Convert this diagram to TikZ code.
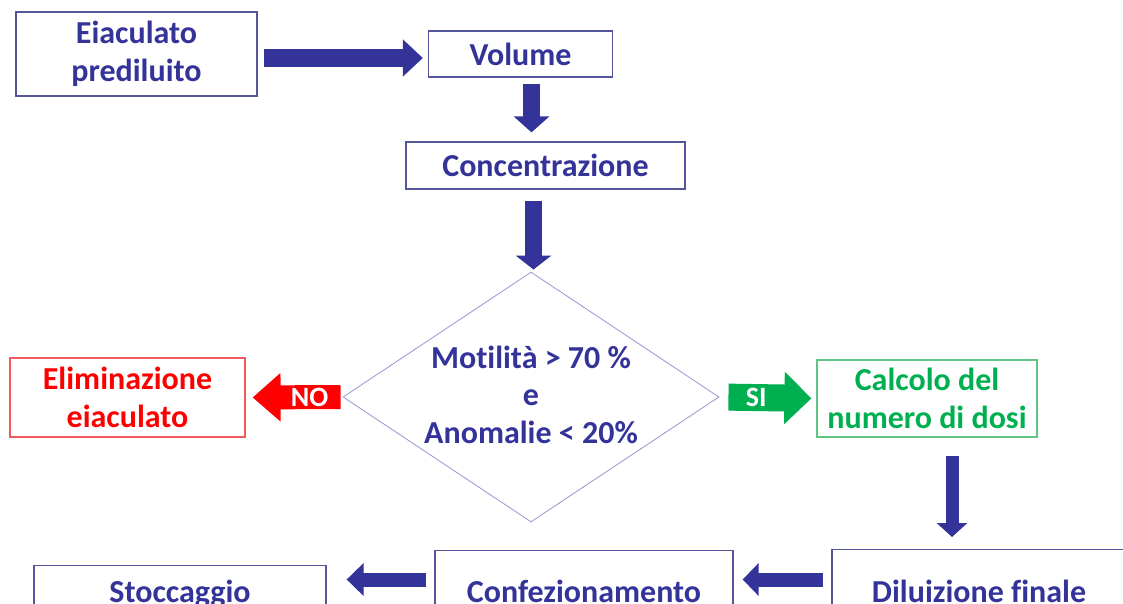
\documentclass[tikz,border=0pt]{standalone}
\usepackage{fontspec}
\setmainfont[Ligatures=NoCommon]{Carlito}
\usetikzlibrary{arrows.meta,shapes.geometric}

\definecolor{navy}{HTML}{333399}
\definecolor{boxline}{HTML}{55559A}
\definecolor{diamline}{HTML}{A0A0D2}
\definecolor{nored}{HTML}{FF0000}
\definecolor{noredline}{HTML}{F05A5A}
\definecolor{sigreen}{HTML}{00B050}
\definecolor{sigreenline}{HTML}{5FC585}

\tikzset{
  txt/.style={font=\fontsize{32}{37.5}\selectfont\bfseries},
  box/.style={draw=boxline, line width=1.3pt, text=navy, txt, align=center, inner sep=0pt},
  lowbox/.style={box, anchor=north, text height=22pt, text depth=7pt},
  decision/.style={shape=diamond, aspect=1.5, draw=diamline, line width=0.9pt,
                   text=navy, txt, align=center, inner sep=0pt,
                   minimum width=376pt, minimum height=250pt},
  % block arrow: #1 shaft thickness, #2 head length, #3 head width
  blockarrow/.style n args={3}{line width=#1, line cap=butt,
                   -{Triangle[length=#2, width=#3]}},
  tag/.style={text=white, font=\fontsize{28}{30}\selectfont\bfseries, inner sep=0pt}
}

\begin{document}
\begin{tikzpicture}[x=1pt, y=-1pt]
  \useasboundingbox (0,0) rectangle (1123,604);
  \clip (0,0) rectangle (1123,604);
  \fill[white] (0,0) rectangle (1123,604);

  % top of the flow
  \node[box, minimum width=241pt, minimum height=84pt] (eia) at (136.5,54) {Eiaculato\\prediluito};
  \node[box, minimum width=184pt, minimum height=46pt] (vol) at (520.5,54) {Volume};
  \node[box, minimum width=279pt, minimum height=47pt] (conc) at (545.5,165.5) {Concentrazione};

  % quality check
  \node[decision] (chk) at (531,397) {Motilità > 70 \%\\e\\Anomalie < 20\%\vphantom{g}};

  \node[box, draw=noredline, text=nored, line width=1.2pt,
        minimum width=235pt, minimum height=79pt] (elim) at (127.5,397.5) {Eliminazione\\eiaculato};
  \node[box, draw=sigreenline, text=sigreen, line width=1.2pt,
        minimum width=220pt, minimum height=77pt] (calc) at (927,398.5) {Calcolo del\\numero di dosi};

  % bottom row (runs past the lower edge)
  \node[lowbox, minimum width=294pt, minimum height=91pt] (dil) at (979,549) {Diluizione finale};
  \node[lowbox, minimum width=298pt, minimum height=89pt] (conf) at (584,550) {Confezionamento};
  \node[lowbox, minimum width=292pt, minimum height=59pt] (stoc) at (180,565) {Stoccaggio};

  % connectors
  \draw[navy, blockarrow={18pt}{20pt}{36pt}, shorten <=6pt, shorten >=5pt]
    ([yshift=-4pt]eia.east) -- ([yshift=-4pt]vol.west);
  \draw[navy, blockarrow={17pt}{16pt}{35pt}, shorten <=6pt, shorten >=9pt]
    ([xshift=11pt]vol.south) -- ([xshift=11pt]vol.south |- conc.north);
  \draw[navy, blockarrow={17pt}{14pt}{35pt}, shorten <=11pt, shorten >=2pt]
    ([xshift=-12pt]conc.south) -- ([xshift=-12pt]conc.south |- chk.north);

  \draw[nored, blockarrow={24pt}{28pt}{47pt}, shorten <=2pt, shorten >=7pt]
    (chk.west) -- (elim.east) node[tag, pos=0.34] {NO};
  \draw[sigreen, blockarrow={27pt}{27pt}{51pt}, shorten <=9pt, shorten >=5pt]
    (chk.east) -- (calc.west) node[tag, pos=0.38] {SI};

  \draw[navy, blockarrow={13pt}{14pt}{30pt}, shorten <=18pt, shorten >=12pt]
    ([xshift=25pt]calc.south) -- ([xshift=25pt]calc.south |- dil.north);

  \coordinate (row) at (0,579.5);
  \draw[navy, blockarrow={14pt}{16pt}{32pt}, shorten <=8pt, shorten >=9pt]
    (dil.west |- row) -- (conf.east |- row);
  \draw[navy, blockarrow={14pt}{17pt}{32pt}, shorten <=8pt, shorten >=20pt]
    (conf.west |- row) -- (stoc.east |- row);
\end{tikzpicture}
\end{document}
